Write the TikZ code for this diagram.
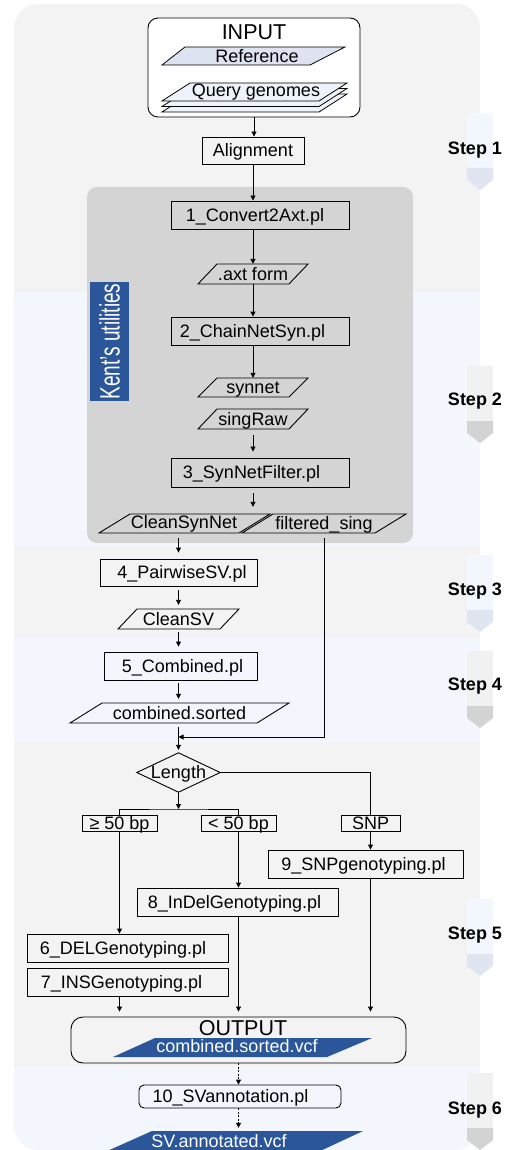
\documentclass[tikz,border=0pt]{standalone}
\usepackage{fontspec}
\setmainfont{Liberation Sans}
\usetikzlibrary{arrows.meta}
\definecolor{bandgrey}{HTML}{F3F3F3}
\definecolor{bandblue}{HTML}{F3F7FD}
\definecolor{kentgrey}{HTML}{D4D4D4}
\definecolor{darkblue}{HTML}{2B579A}
\definecolor{chevlb}{HTML}{F2F6FD}
\definecolor{chevdb}{HTML}{DFE6F2}
\definecolor{chevlg}{HTML}{F1F1F1}
\definecolor{chevdg}{HTML}{D3D3D3}
\definecolor{reffill}{HTML}{DDE3F1}
\definecolor{qfill}{HTML}{EEF3FB}
\newcommand\parashape[6]{\path[#1] (#2,#5) -- ({#2+#6},#4) -- (#3,#4) -- ({#3-#6},#5) -- cycle;}
\newcommand\stepchev[3]{%
  \fill[#2] (467,#1) rectangle (493,{#1+55});
  \fill[#3] (467,{#1+55}) -- (467,{#1+67}) -- (480,{#1+77}) -- (493,{#1+67}) -- (493,{#1+55}) -- cycle;}
\tikzset{
  base/.style={inner sep=0pt, font=\fontsize{18}{20}\selectfont, text height=12.9pt, text depth=0pt, text=black},
  box/.style={base, draw, line width=0.9pt},
  big/.style={base, font=\fontsize{21.5}{24}\selectfont, text height=15.4pt},
  stepl/.style={base, font=\bfseries\fontsize{18}{20}\selectfont},
  pshape/.style={draw, line width=0.9pt},
  conn/.style={line width=0.9pt},
  arr/.style={conn, -{Triangle[length=5pt,width=5pt]}},
  darr/.style={arr, dash pattern=on 2pt off 1.5pt}
}
\begin{document}
\begin{tikzpicture}[x=1pt,y=-1pt]
\useasboundingbox (0,0) rectangle (515,1150);
% bands
\begin{scope}
\clip[rounded corners=24] (14,4) rectangle (480,1150);
\fill[bandgrey] (14,4) rectangle (480,292);
\fill[bandblue] (14,292) rectangle (480,547);
\fill[bandgrey] (14,547) rectangle (480,637);
\fill[bandblue] (14,637) rectangle (480,742);
\fill[bandgrey] (14,742) rectangle (480,1067);
\fill[bandblue] (14,1067) rectangle (480,1150);
\end{scope}
% step chevrons
\stepchev{113}{chevlb}{chevdb}
\stepchev{366}{chevlg}{chevdg}
\stepchev{555}{chevlb}{chevdb}
\stepchev{651}{chevlg}{chevdg}
\stepchev{899}{chevlb}{chevdb}
\stepchev{1073}{chevlg}{chevdg}
\node[stepl] (s1) at (475,148) {Step 1};
\node[stepl] (s2) at (475,399.5) {Step 2};
\node[stepl] (s3) at (475,589) {Step 3};
\node[stepl] (s4) at (475,684) {Step 4};
\node[stepl] (s5) at (475,933) {Step 5};
\node[stepl] (s6) at (475,1108) {Step 6};
% input
\node[box, minimum width=212, minimum height=99, rounded corners=10, fill=white] (input) at (254,67.5) {};
\node[big] (inlbl) at (254,31.5) {INPUT};
\filldraw[fill=reffill, line width=0.8pt] (162,65) -- (185,47) -- (345,47) -- (310,65) -- cycle;
\node[base, minimum width=120, minimum height=18] (ref) at (257,56) {Reference};
\parashape{pshape, line width=0.8pt, fill=qfill}{162}{347}{94}{112}{28}
\parashape{pshape, line width=0.8pt, fill=qfill}{162}{347}{88.5}{106.5}{28}
\parashape{pshape, line width=0.8pt, fill=qfill}{162}{347}{83}{101}{28}
\node[base, minimum width=129, minimum height=18] (query) at (256,90) {Query genomes};
\node[box, minimum width=102, minimum height=27] (align) at (253,150.5) {Alignment};
% Kent's utilities
\fill[kentgrey, rounded corners=10] (87,187) rectangle (413,543);
\node[base, fill=darkblue, text=white, minimum width=119, minimum height=39, text height=20pt, rotate=90] (kent) at (109.5,341.5) {\scalebox{0.68}[1]{\fontsize{28}{30}\selectfont Kent's utilities}};
\node[box, minimum width=178, minimum height=28] (c2a) at (260,215) {\hspace*{-10pt}1\_Convert2Axt.pl};
\parashape{pshape}{198}{308}{264}{284}{19}
\node[base, minimum width=72, minimum height=20] (axt) at (253,274) {.axt form};
\node[box, minimum width=178, minimum height=28] (cns) at (260,331) {\hspace*{-15pt}2\_ChainNetSyn.pl};
\parashape{pshape}{198}{308}{378}{397}{19}
\node[base, minimum width=72, minimum height=19] (synnet) at (253,387.5) {synnet};
\parashape{pshape}{198}{308}{409}{429}{19}
\node[base, minimum width=72, minimum height=20] (singraw) at (253,419) {singRaw};
\node[box, minimum width=178, minimum height=29] (snf) at (260,472.5) {\hspace*{-17pt}3\_SynNetFilter.pl};
\parashape{pshape}{99}{270}{514}{533}{31}
\node[base, minimum width=140, minimum height=19] (clean) at (184,522.5) {CleanSynNet};
\parashape{pshape}{242}{406}{514}{533}{31}
\node[base, minimum width=133, minimum height=19] (filt) at (324,523.5) {filtered\_sing};
% steps 3-4
\node[box, minimum width=157, minimum height=27] (pair) at (178.5,572.5) {\hspace*{7pt}4\_PairwiseSV.pl};
\parashape{pshape}{118}{239}{609}{629}{19}
\node[base, minimum width=102, minimum height=20] (cleansv) at (178.5,619) {CleanSV};
\node[box, minimum width=153, minimum height=28] (comb) at (180.5,666) {\hspace*{4pt}5\_Combined.pl};
\parashape{pshape}{70}{289}{703}{723}{32}
\node[base, minimum width=187, minimum height=20] (sorted) at (179.5,713) {combined.sorted};
% step 5
\node[base, minimum width=83, minimum height=39] (len) at (178.5,772.5) {Length};
\draw[conn] (len.north) -- (len.east) -- (len.south) -- (len.west) -- cycle;
\node[box, minimum width=75, minimum height=16] (ge) at (119.5,823) {≥ 50 bp};
\node[box, minimum width=75, minimum height=16] (lt) at (238.5,823) {< 50 bp};
\node[box, minimum width=59, minimum height=16] (snp) at (370.5,823) {SNP};
\node[box, minimum width=195, minimum height=28] (snpg) at (365.5,864) {\hspace*{-4pt}9\_SNPgenotyping.pl};
\node[box, minimum width=201, minimum height=28] (indel) at (237.5,902) {\hspace*{-6pt}8\_InDelGenotyping.pl};
\node[box, minimum width=201, minimum height=28] (del) at (127.5,948) {\hspace*{-9pt}6\_DELGenotyping.pl};
\node[box, minimum width=201, minimum height=28] (ins) at (127.5,982) {\hspace*{-12pt}7\_INSGenotyping.pl};
\node[box, minimum width=335, minimum height=46, rounded corners=12] (out) at (238.5,1040) {};
\node[big] (outlbl) at (243,1028) {OUTPUT};
\fill[darkblue] (113,1057) -- (155,1038) -- (372,1038) -- (327,1057) -- cycle;
\node[base, text=white, minimum height=19] (vcf) at (237,1046) {combined.sorted.vcf};
% step 6
\node[box, minimum width=202, minimum height=23, rounded corners=5] (svann) at (240,1096.5) {\hspace*{-19pt}10\_SVannotation.pl};
\fill[darkblue] (105,1152) -- (152,1131) -- (363,1131) -- (318,1152) -- cycle;
\node[base, text=white, minimum height=20] (svvcf) at (219,1141) {SV.annotated.vcf};
% connectors
\draw[arr] (input.south) -- (input.south |- align.north);
\draw[arr] (align.south) -- (align.south |- c2a.north);
\draw[arr] (align.south |- c2a.south) -- (axt.north);
\draw[arr] (axt.south) -- (axt.south |- cns.north);
\draw[arr] (axt.south |- cns.south) -- (synnet.north);
\draw[arr, shorten <=6pt, shorten >=6pt] (singraw.south) -- (singraw.south |- snf.north);
\draw[arr, shorten <=6pt, shorten >=6pt] (singraw.south |- snf.south) -- (singraw.south |- clean.north);
\draw[arr, shorten <=6pt, shorten >=6pt] (pair.north |- clean.south) -- (pair.north);
\coordinate (j) at (178.5,737);
\draw[arr, shorten <=5pt] (filt.south) |- (j);
\draw[arr, shorten <=4pt, shorten >=4pt] (pair.south) -- (cleansv.north);
\draw[arr, shorten <=3pt, shorten >=5pt] (cleansv.south) -- (cleansv.south |- comb.north);
\draw[arr, shorten <=3pt, shorten >=4pt] (cleansv.south |- comb.south) -- (cleansv.south |- sorted.north);
\draw[arr, shorten <=4pt, shorten >=3pt] (cleansv.south |- sorted.south) -- (len.north);
\draw[conn] (len.east) -| (snp.north);
\coordinate (br) at (178.5,809);
\draw[arr] (len.south) -- (br);
\draw[conn] (ge.north) |- (br) -| (lt.north);
\draw[arr] (ge.south) -- (ge.south |- del.north);
\draw[arr] (lt.south) -- (lt.south |- indel.north);
\draw[arr] (snp.south) -- (snp.south |- snpg.north);
\draw[arr, shorten <=1pt, shorten >=5pt] (ge.south |- ins.south) -- (ge.south |- out.north);
\draw[arr, shorten >=5pt] (lt.south |- indel.south) -- (lt.south |- out.north);
\draw[arr, shorten >=5pt] (snp.south |- snpg.south) -- (snp.south |- out.north);
\draw[darr] (out.south) -- (out.south |- svann.north);
\draw[darr, shorten >=3pt] (out.south |- svann.south) -- (out.south |- svvcf.north);
\end{tikzpicture}
\end{document}
